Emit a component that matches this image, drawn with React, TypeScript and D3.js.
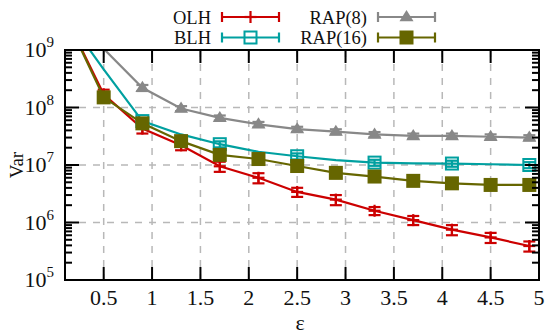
import React from "react";
import * as d3 from "d3";

// epsilon values (x) and variance per method
const eps = [0.1, 0.5, 0.9, 1.3, 1.7, 2.1, 2.5, 2.9, 3.3, 3.7, 4.1, 4.5, 4.9];
const olh = [4e9, 1.7e8, 4.3e7, 2.2e7, 9.5e6, 6.0e6, 3.4e6, 2.5e6, 1.6e6, 1.1e6, 7.5e5, 5.5e5, 3.9e5];
const blh = [4e9, 4.6e8, 5.8e7, 3.4e7, 2.3e7, 1.7e7, 1.42e7, 1.22e7, 1.1e7, 1.07e7, 1.06e7, 1.03e7, 1.0e7];
const rap8 = [1.5e10, 1.05e9, 2.2e8, 9.6e7, 6.6e7, 5.1e7, 4.2e7, 3.8e7, 3.4e7, 3.2e7, 3.2e7, 3.1e7, 3.0e7];
const rap16 = [4e9, 1.5e8, 5.3e7, 2.6e7, 1.5e7, 1.27e7, 9.6e6, 7.3e6, 6.3e6, 5.3e6, 4.8e6, 4.5e6, 4.5e6];

// relative error (half width of the error bars)
const olhErr = [0.2, 0.2, 0.18, 0.18, 0.2, 0.2, 0.18, 0.2, 0.16, 0.18, 0.2, 0.2, 0.2];
const blhErr = [0.12, 0.12, 0.12, 0.12, 0.12, 0.12, 0.12, 0.12, 0.12, 0.12, 0.12, 0.12, 0.12];
const rap8Err = [0.1, 0.1, 0.12, 0.1, 0.1, 0.1, 0.1, 0.1, 0.1, 0.1, 0.1, 0.1, 0.1];
const rap16Err = [0.15, 0.15, 0.15, 0.15, 0.15, 0.15, 0.15, 0.15, 0.15, 0.15, 0.15, 0.15, 0.15];

const xTicks = [0.5, 1, 1.5, 2, 2.5, 3, 3.5, 4, 4.5, 5];
const xTickLabels = ["0.5", "1", "1.5", "2", "2.5", "3", "3.5", "4", "4.5", "5"];
const yTicks = [1e5, 1e6, 1e7, 1e8, 1e9];
const yTickExp = ["5", "6", "7", "8", "9"];

const series = [
  { name: "OLH", values: olh, err: olhErr, color: "#cc0000", marker: "plus", every: 1, col: 0, row: 0 },
  { name: "BLH", values: blh, err: blhErr, color: "#00a0a0", marker: "osquare", every: 2, col: 0, row: 1 },
  { name: "RAP(8)", values: rap8, err: rap8Err, color: "#888888", marker: "triangle", every: 1, col: 1, row: 0 },
  { name: "RAP(16)", values: rap16, err: rap16Err, color: "#666600", marker: "square", every: 1, col: 1, row: 1 },
];

const W = 547;
const H = 334;
const L = 65, R = 539, T = 50, B = 280;
const FONT = "Liberation Serif, Times New Roman, DejaVu Serif, serif";

const x = d3.scaleLinear().domain([0.1, 5]).range([L, R]);
const y = d3.scaleLog().domain([1e5, 1e9]).range([B, T]);

function Marker({ kind, cx, cy, color }: { kind: string; cx: number; cy: number; color: string }) {
  if (kind === "plus") {
    return (
      <g stroke={color} strokeWidth={2.2}>
        <line x1={cx - 6} x2={cx + 6} y1={cy} y2={cy} />
        <line x1={cx} x2={cx} y1={cy - 6} y2={cy + 6} />
      </g>
    );
  }
  if (kind === "osquare") {
    return <rect x={cx - 6} y={cy - 6} width={12} height={12} fill="none" stroke={color} strokeWidth={2} />;
  }
  if (kind === "square") {
    return <rect x={cx - 7} y={cy - 7} width={14} height={14} fill={color} />;
  }
  const s = 7;
  return <path d={`M${cx},${cy - s}L${cx + s},${cy + s * 0.6}L${cx - s},${cy + s * 0.6}Z`} fill={color} />;
}

export default function App() {
  const line = d3
    .line<number>()
    .x((_, i) => x(eps[i]))
    .y((d) => y(d));

  const minor: number[] = [];
  for (let e = 5; e < 9; e++) for (let k = 2; k <= 9; k++) minor.push(k * Math.pow(10, e));

  const inside = (v: number) => v >= 1e5 && v <= 1e9;

  return (
    <svg width={W} height={H} style={{ position: "absolute", left: 0, top: 0, fontFamily: FONT }}>
      <defs>
        <clipPath id="plot">
          <rect x={L} y={T} width={R - L} height={B - T} />
        </clipPath>
      </defs>
      <rect width={W} height={H} fill="#fff" />

      {/* grid */}
      <g stroke="#b8b8b8" strokeWidth={1.5} strokeDasharray="7,7">
        {xTicks.slice(0, -1).map((t) => (
          <line key={"gx" + t} x1={x(t)} x2={x(t)} y1={T} y2={B} />
        ))}
        {yTicks.slice(1, -1).map((t) => (
          <line key={"gy" + t} x1={L} x2={R} y1={y(t)} y2={y(t)} />
        ))}
      </g>

      {/* data */}
      <g clipPath="url(#plot)">
        {series.map((s) => (
          <g key={s.name}>
            <path d={line(s.values) || ""} fill="none" stroke={s.color} strokeWidth={2.2} />
            {s.values.map((v, i) =>
              inside(v) && i % s.every === 0 ? (
                <g key={i}>
                  <g stroke={s.color} strokeWidth={2.2}>
                    <line x1={x(eps[i])} x2={x(eps[i])} y1={y(v * (1 - s.err[i]))} y2={y(v * (1 + s.err[i]))} />
                    <line x1={x(eps[i]) - 6} x2={x(eps[i]) + 6} y1={y(v * (1 - s.err[i]))} y2={y(v * (1 - s.err[i]))} />
                    <line x1={x(eps[i]) - 6} x2={x(eps[i]) + 6} y1={y(v * (1 + s.err[i]))} y2={y(v * (1 + s.err[i]))} />
                  </g>
                  <Marker kind={s.marker} cx={x(eps[i])} cy={y(v)} color={s.color} />
                </g>
              ) : null
            )}
          </g>
        ))}
      </g>

      {/* ticks */}
      <g stroke="#000" strokeWidth={2}>
        {xTicks.map((t) => (
          <g key={"tx" + t}>
            <line x1={x(t)} x2={x(t)} y1={B} y2={B - 13} />
            <line x1={x(t)} x2={x(t)} y1={T} y2={T + 13} />
          </g>
        ))}
        {yTicks.map((t) => (
          <g key={"ty" + t}>
            <line x1={L} x2={L + 14} y1={y(t)} y2={y(t)} />
            <line x1={R} x2={R - 14} y1={y(t)} y2={y(t)} />
          </g>
        ))}
        {minor.map((t) => (
          <g key={"tm" + t}>
            <line x1={L} x2={L + 7} y1={y(t)} y2={y(t)} />
            <line x1={R} x2={R - 7} y1={y(t)} y2={y(t)} />
          </g>
        ))}
      </g>
      <rect x={L} y={T} width={R - L} height={B - T} fill="none" stroke="#000" strokeWidth={2} />

      {/* tick labels */}
      <g fontSize={22} fill="#111">
        {xTicks.map((t, i) => (
          <text key={"lx" + t} x={x(t)} y={305} textAnchor="middle">
            {xTickLabels[i]}
          </text>
        ))}
        {yTicks.map((t, i) => (
          <text key={"ly" + t} x={54} y={y(t) + 7} textAnchor="end">
            10
            <tspan fontSize={15} dy={-10}>
              {yTickExp[i]}
            </tspan>
          </text>
        ))}
      </g>

      {/* axis titles */}
      <text x={300} y={330} fontSize={22} textAnchor="middle" fill="#111">
        ε
      </text>
      <text transform="translate(23,165) rotate(-90)" fontSize={19} textAnchor="middle" fill="#111">
        Var
      </text>

      {/* legend */}
      {series.map((s) => {
        const tx = s.col === 0 ? 211 : 367;
        const lx1 = s.col === 0 ? 222 : 378;
        const lx2 = lx1 + 57;
        const ly = s.row === 0 ? 17 : 37.5;
        const mx = (lx1 + lx2) / 2;
        return (
          <g key={"leg" + s.name}>
            <text x={tx} y={ly + 6.5} textAnchor="end" fontSize={18.5} fill="#111">
              {s.name}
            </text>
            <g stroke={s.color} strokeWidth={2.2}>
              <line x1={lx1} x2={lx2} y1={ly} y2={ly} />
              <line x1={lx1} x2={lx1} y1={ly - 5} y2={ly + 5} />
              <line x1={lx2} x2={lx2} y1={ly - 5} y2={ly + 5} />
            </g>
            <Marker kind={s.marker} cx={mx} cy={ly} color={s.color} />
          </g>
        );
      })}
    </svg>
  );
}
